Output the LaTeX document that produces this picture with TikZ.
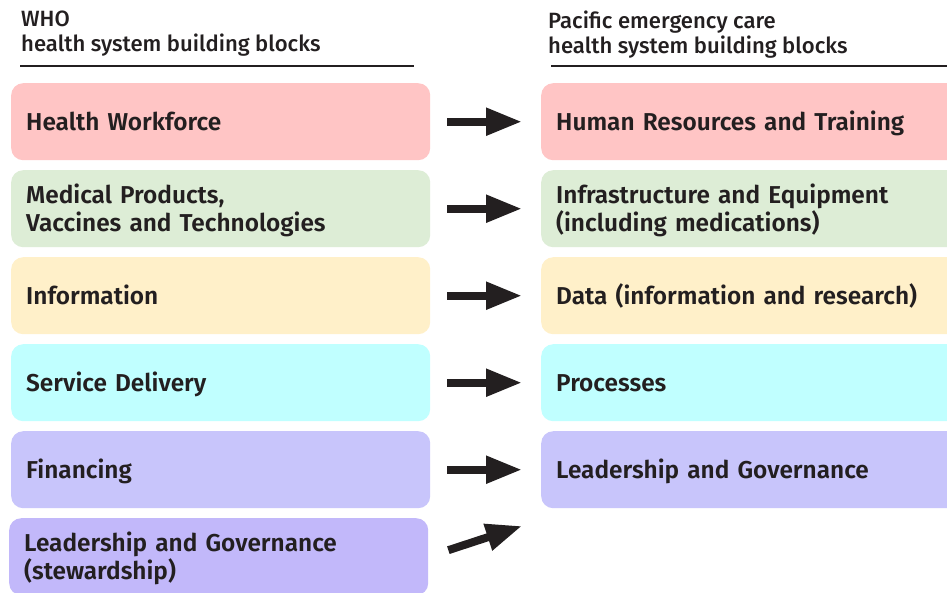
\documentclass[tikz,border=0pt]{standalone}
\usepackage{fontspec}
\setmainfont{Fira Sans}[UprightFont=* Medium]
\newfontfamily\blockfont{Fira Sans}[UprightFont=* SemiBold]
\usetikzlibrary{arrows.meta}
\definecolor{ink}{HTML}{231F20}
\definecolor{cpink}{HTML}{FFC5C5}
\definecolor{cgreen}{HTML}{DDEDD6}
\definecolor{cyellow}{HTML}{FFF0C9}
\definecolor{ccyan}{HTML}{C0FFFF}
\definecolor{clav}{HTML}{C8C5FB}
\definecolor{cviolet}{HTML}{C2B8FA}
\tikzset{
  block/.style={rounded corners=12pt, minimum height=77pt, inner xsep=15pt,
    inner ysep=0pt, anchor=north west, align=left, text=ink,
    font=\blockfont\fontsize{24.4pt}{28pt}\selectfont,
    % fixed first-line height and last-line depth keep the caps centred
    execute at begin node={\rule{0pt}{22.8pt}},
    execute at end node={\rule[-6pt]{0pt}{6pt}}},
  lblock/.style={block, minimum width=419pt, text width=389pt},
  rblock/.style={block, minimum width=430pt, text width=400pt},
  header/.style={anchor=north west, align=left, text=ink, inner sep=0pt,
    font=\fontsize{22.1pt}{24.5pt}\selectfont,
    execute at begin node={\rule{0pt}{18pt}}},
  blockarrow/.style={line width=8pt, draw=ink,
    -{Triangle[length=36pt, width=26pt]}}
}
\begin{document}
\begin{tikzpicture}[x=1pt, y=-1pt]
  \clip (0,0) rectangle (947,592);
  \fill[white] (0,0) rectangle (947,592);

  % column headings
  \node[header] (hl) at (21,11) {WHO\\health system building blocks};
  \node[header] (hr) at (548,11) {Pacific emergency care\\health system building blocks};
  \draw[ink, line width=2pt] (20,66) -- (414,66);
  \draw[ink, line width=2pt] (551,66) -- (947,66);

  % WHO building blocks
  \node[lblock, fill=cpink]   (L1) at (11,83)  {Health Workforce};
  \node[lblock, fill=cgreen]  (L2) at (11,170) {Medical Products,\\Vaccines and Technologies};
  \node[lblock, fill=cyellow] (L3) at (11,257) {Information};
  \node[lblock, fill=ccyan]   (L4) at (11,344) {Service Delivery};
  \node[lblock, fill=clav]    (L5) at (11,431) {Financing};
  \node[lblock, fill=cviolet, inner xsep=13pt] (L6) at (9,518) {Leadership and Governance\\(stewardship)};

  % Pacific emergency care building blocks
  \node[rblock, fill=cpink]   (R1) at (541,83)  {Human Resources and Training};
  \node[rblock, fill=cgreen]  (R2) at (541,170) {Infrastructure and Equipment\\(including medications)};
  \node[rblock, fill=cyellow] (R3) at (541,257) {Data (information and research)};
  \node[rblock, fill=ccyan]   (R4) at (541,344) {Processes};
  \node[rblock, fill=clav]    (R5) at (541,431) {Leadership and Governance};

  % mapping arrows
  \foreach \i in {1,...,5}{
    \draw[blockarrow, shorten <=17pt, shorten >=19pt] (L\i.east) -- (R\i.west);
  }
  \coordinate (t6) at (522,526);
  \draw[blockarrow, shorten <=21pt] (L6.east) -- (t6);
\end{tikzpicture}
\end{document}
